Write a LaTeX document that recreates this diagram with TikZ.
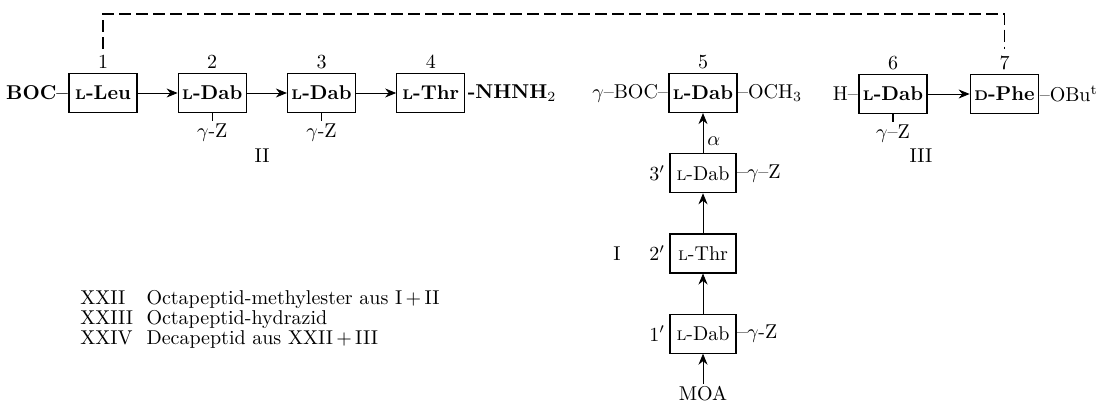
\documentclass[tikz,border=0pt]{standalone}
\usepackage{tikz}
\usetikzlibrary{arrows.meta, positioning}

% small capital L and D (also usable in bold)
\newcommand{\Lsc}{{\scriptsize L}}
\newcommand{\Dsc}{{\scriptsize D}}

\tikzset{
  res/.style={rectangle, draw, line width=0.6pt, minimum width=33pt,
              minimum height=19.5pt, inner xsep=2pt},
  topres/.style={res, minimum width=34pt, font=\bfseries},
  num/.style={inner sep=0pt},
  side/.style={inner sep=1pt},
  arr/.style={-{Stealth[length=5.5pt, width=4.5pt]}, line width=0.4pt},
  ring/.style={line width=0.6pt, dash pattern=on 6pt off 2.5pt},
}

\begin{document}
\begin{tikzpicture}[x=0.5pt, y=-0.5pt, node distance=20pt]
  \useasboundingbox (0,0) rectangle (1101,411);

  % linear chain 1-4
  \node[topres]              (b1) at (103,93) {\Lsc-Leu};
  \node[topres, right=of b1] (b2) {\Lsc-Dab};
  \node[topres, right=of b2] (b3) {\Lsc-Dab};
  \node[topres, right=of b3] (b4) {\Lsc-Thr};
  \node[side, anchor=east, inner sep=0pt] (boc) at (b1.west) {\bfseries BOC--};
  \node[side, anchor=west, inner ysep=0pt] (hyd) at (b4.east) {\bfseries -NHNH$_2$};

  % residue 5 and the side chain 1'-3'
  \node[topres]              (b5) at (703,93) {\Lsc-Dab};
  \node[res, below=of b5]    (c3) {\Lsc-Dab};
  \node[res, below=of c3]    (c2) {\Lsc-Thr};
  \node[res, below=of c2]    (c1) {\Lsc-Dab};
  \node[side, below=15pt of c1] (moa) {MOA};
  \node[side, anchor=east, inner sep=0pt] (gboc) at (b5.west) {$\gamma$--BOC--};
  \node[side, anchor=west, inner sep=0pt] (ome)  at (b5.east) {--OCH$_3$};
  \node[side, left=1pt of c3] (p3) {3$'$};
  \node[side, left=1pt of c2] (p2) {2$'$};
  \node[side, left=1pt of c1] (p1) {1$'$};
  \node[side, left=12pt of p2] (pI) {I};
  \node[side, anchor=west, inner sep=0pt] (zc3) at (c3.east) {--$\gamma$--Z};
  \node[side, anchor=west, inner sep=0pt] (zc1) at (c1.east) {--$\gamma$-Z};

  % residues 6 and 7
  \node[topres]                (b6) at (893,94) {\Lsc-Dab};
  \node[topres, right=21pt of b6] (b7) {\Dsc-Phe};
  \node[side, anchor=east, inner sep=0pt] (hh)  at (b6.west) {H--};
  \node[side, anchor=west, inner sep=0pt] (obu) at (b7.east) {--OBu\textsuperscript{t}};

  % position numbers
  \node[num, above=2pt of b1] (n1) {1};
  \node[num, above=2pt of b2] (n2) {2};
  \node[num, above=2pt of b3] (n3) {3};
  \node[num, above=2pt of b4] (n4) {4};
  \node[num, above=2pt of b5] (n5) {5};
  \node[num, above=2pt of b6] (n6) {6};
  \node[num, above=2pt of b7] (n7) {7};

  % Z-protected side chains
  \node[side, below=4pt of b2] (z2) {$\gamma$-Z};
  \node[side, below=4pt of b3] (z3) {$\gamma$-Z};
  \node[side, below=4pt of b6] (z6) {$\gamma$--Z};
  \draw[line width=0.4pt] (b2) -- (z2);
  \draw[line width=0.4pt] (b3) -- (z3);
  \draw[line width=0.6pt] (b6) -- (z6);

  % fragment numbers
  \node (fII)  at (262,156) {II};
  \node (fIII) at (921,156) {III};

  % couplings
  \draw[arr] (b1) -- (b2);
  \draw[arr] (b2) -- (b3);
  \draw[arr] (b3) -- (b4);
  \draw[arr] (b6) -- (b7);
  \draw[arr] (moa) -- (c1);
  \draw[arr] (c1) -- (c2);
  \draw[arr] (c2) -- (c3);
  \draw[arr] (c3) -- node[right, pos=0.3, inner sep=2pt] {$\alpha$} (b5);

  % ring closure 1-7
  \coordinate (top) at (0,14);
  \draw[ring, shorten <=3pt] (n1.north) -- (n1.north |- top) -| ([yshift=3pt]n7.north);

  % legend
  \node[anchor=north west, inner sep=0pt] (legend) at (80,290) {%
    \renewcommand{\arraystretch}{0.8}%
    \begin{tabular}{@{}l@{\ \ }l@{}}
      XXII  & Octapeptid-methylester aus I\,+\,II\\
      XXIII & Octapeptid-hydrazid\\
      XXIV  & Decapeptid aus XXII\,+\,III
    \end{tabular}};
\end{tikzpicture}
\end{document}
